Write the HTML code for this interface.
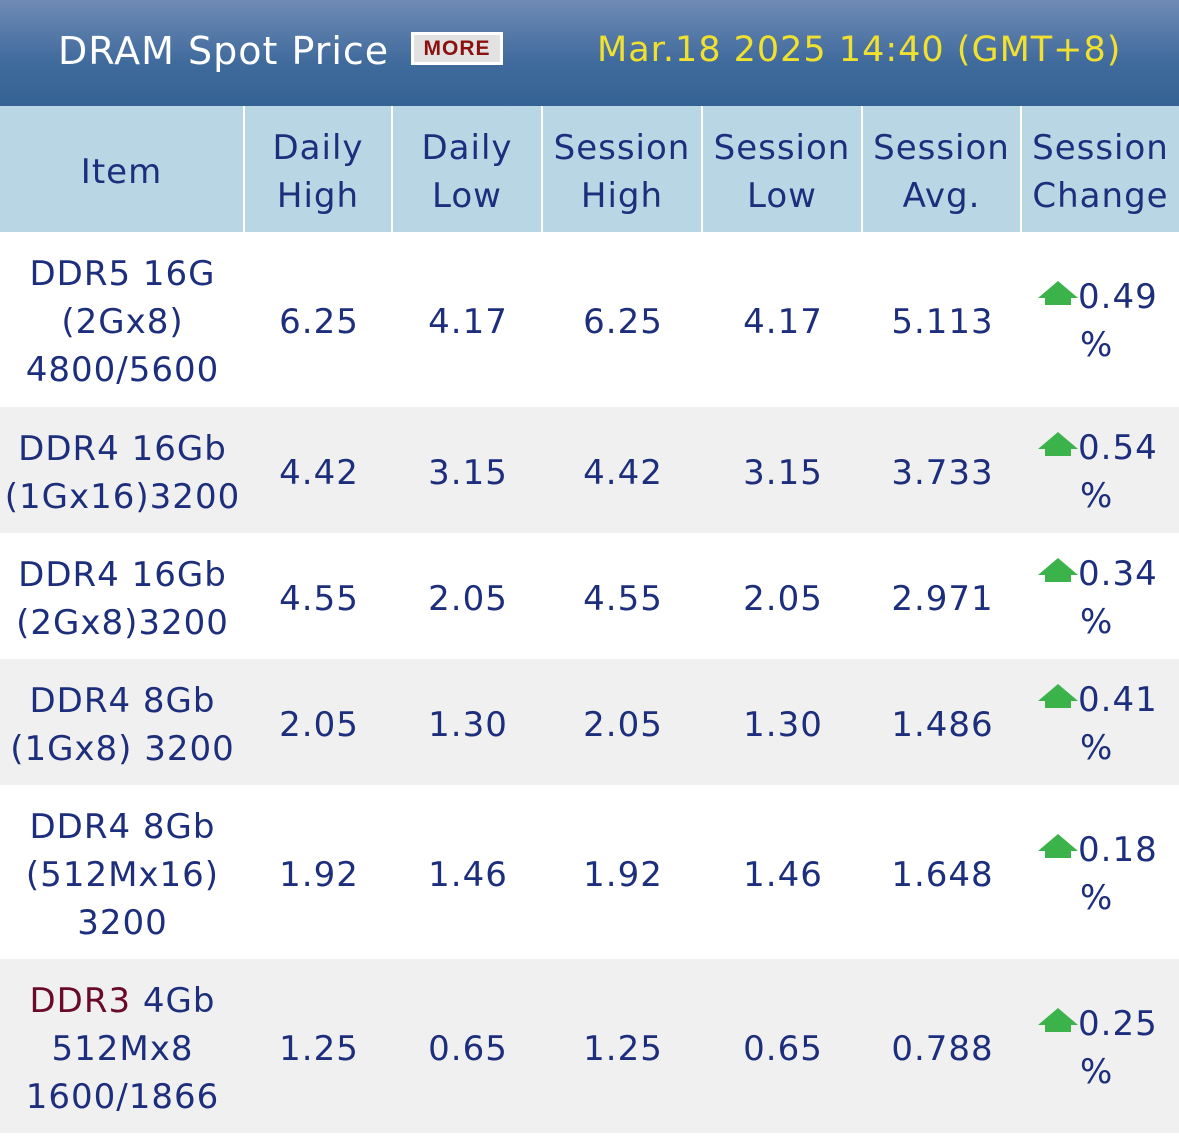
<!DOCTYPE html>
<html><head><meta charset="utf-8"><style>
*{margin:0;padding:0;box-sizing:border-box}
body{width:1179px;height:1147px;background:#fff;font-family:"DejaVu Sans","Liberation Sans",sans-serif;color:#1c2e7c;position:relative;overflow:hidden}
#top{position:absolute;left:0;top:0;width:1179px;height:106px;background:linear-gradient(#6f8bb5,#3f6a9c 60%,#356294)}
#title{position:absolute;left:58px;top:29px;font-size:38px;letter-spacing:1px;color:#fff}
#more{position:absolute;left:411px;top:32px;width:92px;height:33px;background:#e2e2e2;border:3px solid #fff;color:#8b1010;font:bold 21px "Liberation Sans",sans-serif;text-align:center;line-height:27px;letter-spacing:1px}
#date{position:absolute;left:597px;top:30px;font-size:35px;letter-spacing:1px;color:#f0e030}
.c{position:absolute;display:flex;align-items:center;justify-content:center;text-align:center;font-size:34px;letter-spacing:1px;line-height:48px;padding-top:5px}
</style></head><body>
<div id="top">
<div id="title">DRAM Spot Price</div>
<div id="more">MORE</div>
<div id="date">Mar.18 2025 14:40 (GMT+8)</div>
</div>
<div id="tbl"></div>
<script>
const headers=["Item","Daily<br>High","Daily<br>Low","Session<br>High","Session<br>Low","Session<br>Avg.","Session<br>Change"];
const items=["DDR5 16G<br>(2Gx8)<br>4800/5600","DDR4 16Gb<br>(1Gx16)3200","DDR4 16Gb<br>(2Gx8)3200","DDR4 8Gb<br>(1Gx8) 3200","DDR4 8Gb<br>(512Mx16)<br>3200","<span style=\"color:#6a0a2a\">DDR3</span> 4Gb<br>512Mx8<br>1600/1866"];
const dailyHigh=["6.25","4.42","4.55","2.05","1.92","1.25"];
const dailyLow=["4.17","3.15","2.05","1.30","1.46","0.65"];
const sessHigh=["6.25","4.42","4.55","2.05","1.92","1.25"];
const sessLow=["4.17","3.15","2.05","1.30","1.46","0.65"];
const sessAvg=["5.113","3.733","2.971","1.486","1.648","0.788"];
const sessChg=["0.49","0.54","0.34","0.41","0.18","0.25"];
const colX=[0,245,393,543,703,863,1022,1179];
const rowY=[106,232,407,533,659,785,959,1133];
const tbl=document.getElementById('tbl');
function cell(x0,x1,y0,y1,html,bg,name){
  const d=document.createElement('div');
  d.className='c';
  d.style.left=x0+'px';d.style.top=y0+'px';d.style.width=(x1-x0)+'px';d.style.height=(y1-y0)+'px';
  if(bg)d.style.background=bg;
  d.innerHTML='<div>'+html+'</div>';
  
  
  tbl.appendChild(d);return d;
}
headers.forEach((h,i)=>{
  const x1=i<6?colX[i+1]-2:colX[i+1];
  cell(colX[i],x1,rowY[0],rowY[1],h,'#b8d6e4','header-'+i);
});
const cols=[items,dailyHigh,dailyLow,sessHigh,sessLow,sessAvg];
for(let r=0;r<items.length;r++){
  const bg=r%2?'#f0f0f0':'#ffffff';
  const y0=rowY[r+1],y1=rowY[r+2];
  const rowBg=document.createElement('div');
  rowBg.style.cssText='position:absolute;left:0;width:1179px;top:'+y0+'px;height:'+(y1-y0)+'px;background:'+bg;
  
  
  tbl.appendChild(rowBg);
  cols.forEach((arr,c)=>{cell(colX[c],colX[c+1],y0,y1,arr[r],null,'cell-'+r+'-'+c);});
  const chg='<div style="text-align:left;margin-left:16px;letter-spacing:1px"><span style="display:inline-block;width:40px;height:26px;vertical-align:-1px"><svg width="40" height="28" viewBox="0 0 40 28"><polygon points="20,0 40,17 33,17 33,24 7,24 7,17 0,17" fill="#3cb34a"/></svg></span>'+sessChg[r]+'<br><span style="margin-left:42px">%</span></div>';
  const d=cell(colX[6],colX[7],y0,y1-2,chg,null,'change-'+r);
  d.style.justifyContent='flex-start';
}
</script>
</body></html>
